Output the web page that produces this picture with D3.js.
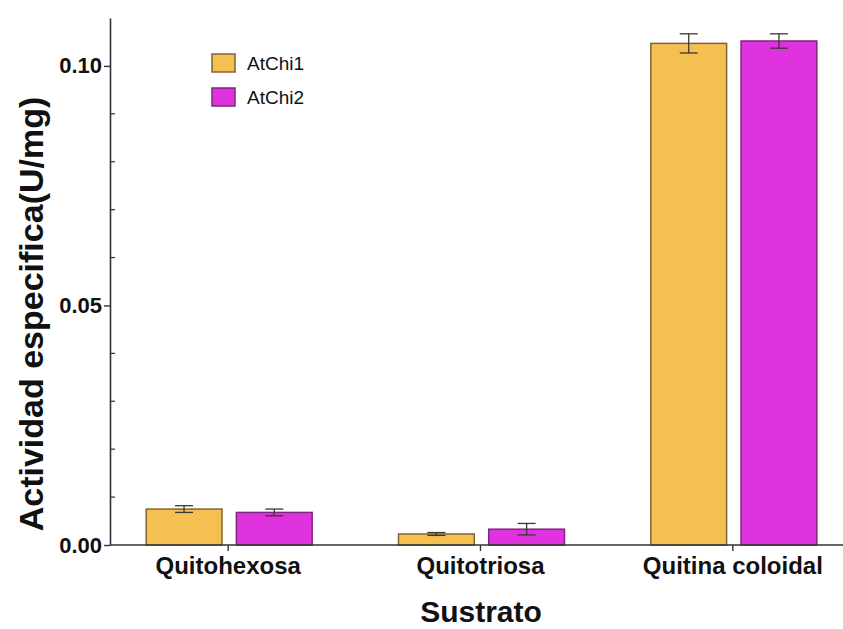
<!DOCTYPE html>
<html>
<head>
<meta charset="utf-8">
<script src="https://cdn.jsdelivr.net/npm/d3@7"></script>
<style>
  body { margin: 0; background: #fff; }
  svg { display: block; font-family: "Liberation Sans", Arial, sans-serif; }
</style>
</head>
<body>
<svg width="843" height="629"></svg>
<script>
'use strict';

const categories = ['Quitohexosa', 'Quitotriosa', 'Quitina coloidal'];
const series = ['AtChi1', 'AtChi2'];
const atChi1 = [0.0075, 0.0023, 0.1047];
const atChi1Err = [0.0007, 0.0003, 0.0020];
const atChi2 = [0.0068, 0.0033, 0.1052];
const atChi2Err = [0.0007, 0.0012, 0.0015];
const yTicks = [0, 0.05, 0.10];
const yMinor = [0.01, 0.02, 0.03, 0.04, 0.06, 0.07, 0.08, 0.09];

const fills = {AtChi1: '#f5c052', AtChi2: '#e033e0'};
const strokes = {AtChi1: '#806432', AtChi2: '#7a2a7a'};

const svg = d3.select('svg');

const x = d3.scaleBand()
    .domain(categories)
    .range([102, 859]);

const xSub = d3.scaleBand()
    .domain(series)
    .range([-82, 84])
    .paddingInner(0.16);

const y = d3.scaleLinear()
    .domain([0, 0.11])
    .range([545, 18]);

const rows = categories.map((c, i) => ({
  cat: c,
  vals: [
    {s: 'AtChi1', v: atChi1[i], e: atChi1Err[i]},
    {s: 'AtChi2', v: atChi2[i], e: atChi2Err[i]}
  ]
}));

// bars
const groups = svg.selectAll('g.grp')
  .data(rows)
  .join('g')
    .attr('class', 'grp')
    .attr('transform', d => `translate(${x(d.cat) + x.bandwidth() / 2},0)`);

groups.selectAll('rect')
  .data(d => d.vals)
  .join('rect')
    .attr('x', d => xSub(d.s))
    .attr('y', d => y(d.v))
    .attr('width', xSub.bandwidth())
    .attr('height', d => y(0) - y(d.v))
    .attr('fill', d => fills[d.s])
    .attr('stroke', d => strokes[d.s])
    .attr('stroke-width', 1.5);

// error bars
const eb = groups.selectAll('g.err')
  .data(d => d.vals)
  .join('g')
    .attr('class', 'err')
    .attr('stroke', '#3a3a2a')
    .attr('stroke-width', 1.3)
    .attr('transform', d => `translate(${xSub(d.s) + xSub.bandwidth() / 2},0)`);

eb.append('line')
    .attr('y1', d => y(d.v - d.e))
    .attr('y2', d => y(d.v + d.e));
eb.append('line')
    .attr('x1', -9).attr('x2', 9)
    .attr('y1', d => y(d.v + d.e)).attr('y2', d => y(d.v + d.e));
eb.append('line')
    .attr('x1', -9).attr('x2', 9)
    .attr('y1', d => y(d.v - d.e)).attr('y2', d => y(d.v - d.e));

// y axis
const yAxis = svg.append('g')
    .attr('transform', 'translate(110,0)')
    .call(d3.axisLeft(y).tickValues(yTicks).tickFormat(d3.format('.2f')).tickSize(6).tickSizeOuter(0));
yAxis.select('.domain').attr('stroke', '#333').attr('stroke-width', 1.6);
yAxis.selectAll('.tick line').attr('stroke', '#333').attr('stroke-width', 1.4);
yAxis.selectAll('.tick text')
    .attr('font-size', 22)
    .attr('font-weight', 'bold')
    .attr('fill', '#111')
    .attr('x', -8);

svg.append('g')
  .selectAll('line')
  .data(yMinor)
  .join('line')
    .attr('x1', 110).attr('x2', 115)
    .attr('y1', d => y(d)).attr('y2', d => y(d))
    .attr('stroke', '#333')
    .attr('stroke-width', 1.2);

// x axis
const xAxis = svg.append('g')
    .attr('transform', `translate(0,${y(0)})`)
    .call(d3.axisBottom(x).tickSize(6).tickSizeOuter(0));
xAxis.select('.domain').attr('d', `M110,0H843`).attr('stroke', '#333').attr('stroke-width', 1.6);
xAxis.selectAll('.tick line').attr('stroke', '#333').attr('stroke-width', 1.4);
xAxis.selectAll('.tick text')
    .attr('font-size', 24)
    .attr('font-weight', 'bold')
    .attr('fill', '#111')
    .attr('y', 12);

// axis titles
svg.append('text')
    .attr('x', 481)
    .attr('y', 622)
    .attr('text-anchor', 'middle')
    .attr('font-size', 30)
    .attr('font-weight', 'bold')
    .attr('fill', '#111')
    .text('Sustrato');

svg.append('text')
    .attr('transform', 'translate(43,314) rotate(-90)')
    .attr('text-anchor', 'middle')
    .attr('font-size', 34)
    .attr('font-weight', 'bold')
    .attr('fill', '#111')
    .text('Actividad especifica(U/mg)');

// legend
const legend = svg.append('g')
  .selectAll('g')
  .data(series)
  .join('g')
    .attr('transform', (d, i) => `translate(212,${54 + i * 34})`);

legend.append('rect')
    .attr('width', 23)
    .attr('height', 18)
    .attr('fill', d => fills[d])
    .attr('stroke', d => strokes[d])
    .attr('stroke-width', 1.5);

legend.append('text')
    .attr('x', 35)
    .attr('y', 16)
    .attr('font-size', 19)
    .attr('fill', '#111')
    .text(d => d);
</script>
</body>
</html>
